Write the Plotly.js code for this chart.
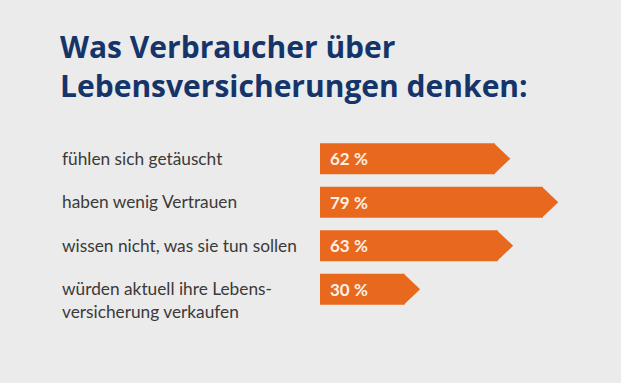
<!DOCTYPE html>
<html>
<head>
<meta charset="utf-8">
<script src="https://cdn.plot.ly/plotly-3.0.1.min.js"></script>
<style>html,body{margin:0;padding:0;background:#ebebeb;}</style>
</head>
<body>
<div id="chart" style="width:621px;height:383px;"></div>
<script>
const categories = [
  "fühlen sich getäuscht",
  "haben wenig Vertrauen",
  "wissen nicht, was sie tun sollen",
  "würden aktuell ihre Lebens-<br>versicherung verkaufen"
];
const values = [62, 79, 63, 30];
const valueLabels = ["62\u202F%", "79\u202F%", "63\u202F%", "30\u202F%"];

const orange = "#e8691e";
const positions = values.map((v, i) => i);
const barHalf = 0.3565;
const tipDepth = 5.5;

const shapes = values.map((v, i) => ({
  type: "path",
  xref: "x", yref: "y",
  path: `M ${v - 0.3},${i - barHalf} L ${v + tipDepth},${i} L ${v - 0.3},${i + barHalf} Z`,
  fillcolor: orange,
  line: {width: 0},
  layer: "above"
}));

const annotations = [];
categories.forEach((c, i) => {
  c.split("<br>").forEach((line, k) => {
    annotations.push({
      xref: "paper", yref: "y",
      x: -0.8667, y: i,
      xanchor: "left", yanchor: "middle",
      yshift: -k * 22.7 + 0.5,
      align: "left",
      showarrow: false,
      text: line,
      font: {family: "Lato, sans-serif", size: 17.3, color: "#3a3a3a"}
    });
  });
  annotations.push({
    xref: "x", yref: "y",
    x: 0, y: i,
    xanchor: "left", yanchor: "middle",
    xshift: 8,
    showarrow: false,
    text: "<b>" + valueLabels[i] + "</b>",
    font: {family: "Lato, sans-serif", size: 17, color: "#fdf0e6"}
  });
});

const data = [{
  type: "bar",
  orientation: "h",
  x: values,
  y: positions,
  width: barHalf * 2,
  marker: {color: orange, line: {width: 0}},
  hoverinfo: "skip",
  textposition: "none"
}];

const layout = {
  width: 621, height: 383,
  paper_bgcolor: "#ebebeb",
  plot_bgcolor: "#ebebeb",
  margin: {l: 320, r: 1, t: 137, b: 72, pad: 0},
  showlegend: false,
  title: {
    text: "<b>Was Verbraucher über<br>Lebensversicherungen denken:</b>",
    xref: "container", yref: "container",
    x: 60 / 621, xanchor: "left",
    y: 1 - 58 / 383, yanchor: "top",
    font: {family: "Open Sans, sans-serif", size: 30, color: "#15356a"}
  },
  xaxis: {
    range: [0, 300 / 2.82],
    visible: false, fixedrange: true
  },
  yaxis: {
    range: [3.5, -0.5],
    visible: false, fixedrange: true
  },
  shapes: shapes,
  annotations: annotations
};

Plotly.newPlot("chart", data, layout, {displayModeBar: false, staticPlot: true});
</script>
</body>
</html>
